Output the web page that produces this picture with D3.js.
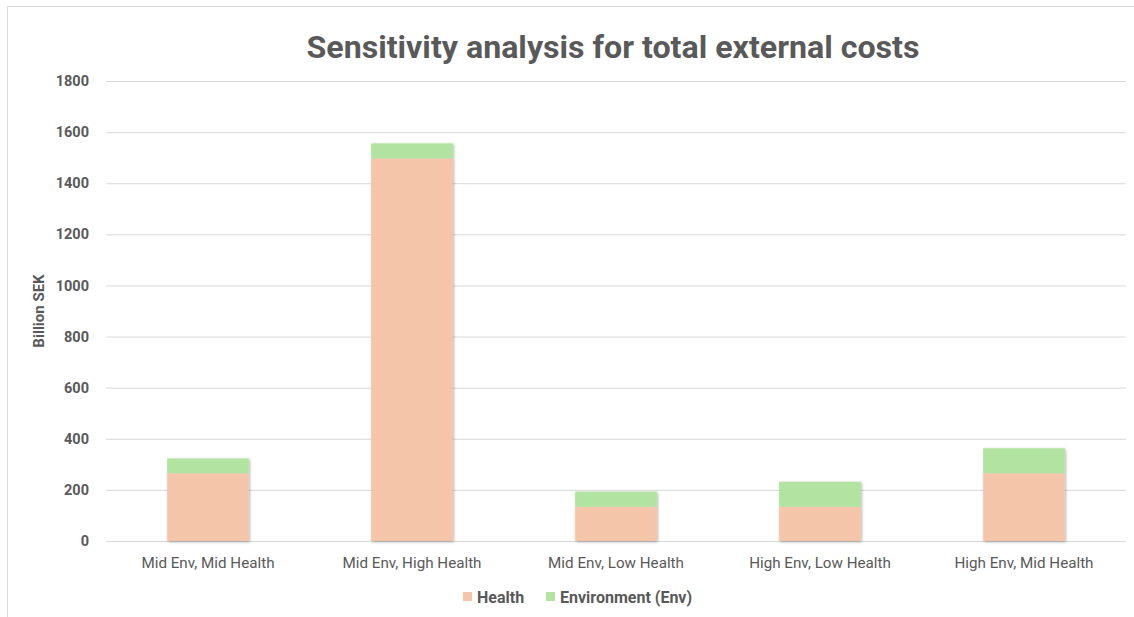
<!DOCTYPE html>
<html><head><meta charset="utf-8">
<script src="https://cdn.jsdelivr.net/npm/d3@7"></script>
<style>
html,body{margin:0;padding:0;background:#fff;}
svg{display:block;}
text{font-family:Roboto,"Open Sans",sans-serif;fill:#595959;}
</style></head>
<body>
<svg id="chart" width="1134" height="617"></svg>
<script>
const categories = ["Mid Env, Mid Health","Mid Env, High Health","Mid Env, Low Health","High Env, Low Health","High Env, Mid Health"];
const seriesNames = ["Health","Environment (Env)"];
const health = [265, 1497, 134, 134, 265];
const environment = [58, 59, 59, 98, 98];
const yTicks = [0,200,400,600,800,1000,1200,1400,1600,1800];
const colors = ["#F5C5AA","#B3E3A0"];

const svg = d3.select("#chart");
const W = 1134, H = 617;
const m = {left:106, right:8, top:81, bottom:76};

const defs = svg.append("defs");
const f = defs.append("filter").attr("id","sh").attr("x","-20%").attr("y","-20%").attr("width","140%").attr("height","140%");
f.append("feDropShadow").attr("dx",1).attr("dy",1).attr("stdDeviation",1.5).attr("flood-color","#000").attr("flood-opacity",0.3);

svg.append("rect").attr("x",7.5).attr("y",6.5).attr("width",1130).attr("height",620)
  .attr("fill","#fff").attr("stroke","#D9D9D9").attr("stroke-width",1);

const x = d3.scaleBand().domain(categories).range([m.left, W-m.right]).paddingInner(0.6).paddingOuter(0.3);
const y = d3.scaleLinear().domain([0,1800]).range([H-m.bottom, m.top]);

// gridlines
const yAxis = d3.axisLeft(y).tickValues(yTicks).tickSize(-(W-m.right-m.left)).tickPadding(17).tickFormat(d3.format("d"));
const gy = svg.append("g").attr("transform",`translate(${m.left},0)`).call(yAxis);
gy.select(".domain").remove();
gy.selectAll(".tick line").attr("stroke","#D9D9D9").attr("stroke-width",1);
gy.selectAll(".tick text").attr("font-size",14.5).attr("font-weight","bold").attr("fill","#595959");

// baseline
svg.append("line").attr("x1",m.left).attr("x2",W-m.right).attr("y1",y(0)+0.5).attr("y2",y(0)+0.5).attr("stroke","#D9D9D9");

const data = categories.map((c,i)=>({cat:c, Health:health[i], Env:environment[i]}));
const stack = d3.stack().keys(["Health","Env"])(data);

svg.append("g").attr("filter","url(#sh)")
  .selectAll("g").data(stack).join("g")
  .attr("fill",(d,i)=>colors[i])
  .selectAll("rect").data(d=>d).join("rect")
  .attr("x",d=>x(d.data.cat)).attr("width",x.bandwidth())
  .attr("y",d=>y(d[1])).attr("height",d=>y(d[0])-y(d[1]));

// x axis labels
const xAxis = d3.axisBottom(x).tickSize(0).tickPadding(16);
const gx = svg.append("g").attr("transform",`translate(0,${y(0)})`).call(xAxis);
gx.select(".domain").remove();
gx.selectAll(".tick text").attr("font-size",15.2).attr("fill","#595959");

// title
svg.append("text").attr("x",613).attr("y",58).attr("text-anchor","middle")
  .attr("font-size",31).attr("font-weight","bold").attr("fill","#595959")
  .attr("textLength",613).attr("lengthAdjust","spacingAndGlyphs")
  .text("Sensitivity analysis for total external costs");

// y title
svg.append("text").attr("transform",`translate(44,${(y(0)+y(1800))/2}) rotate(-90)`)
  .attr("text-anchor","middle").attr("font-size",15).attr("font-weight","bold")
  .text("Billion SEK");

// legend
const legX = [463, 546];
const lg = svg.append("g");
seriesNames.forEach((s,i)=>{
  lg.append("rect").attr("x",legX[i]).attr("y",592).attr("width",9).attr("height",9).attr("fill",colors[i]);
  lg.append("text").attr("x",legX[i]+14).attr("y",603).attr("font-size",16).attr("font-weight","bold").text(s);
});
</script>
</body></html>
